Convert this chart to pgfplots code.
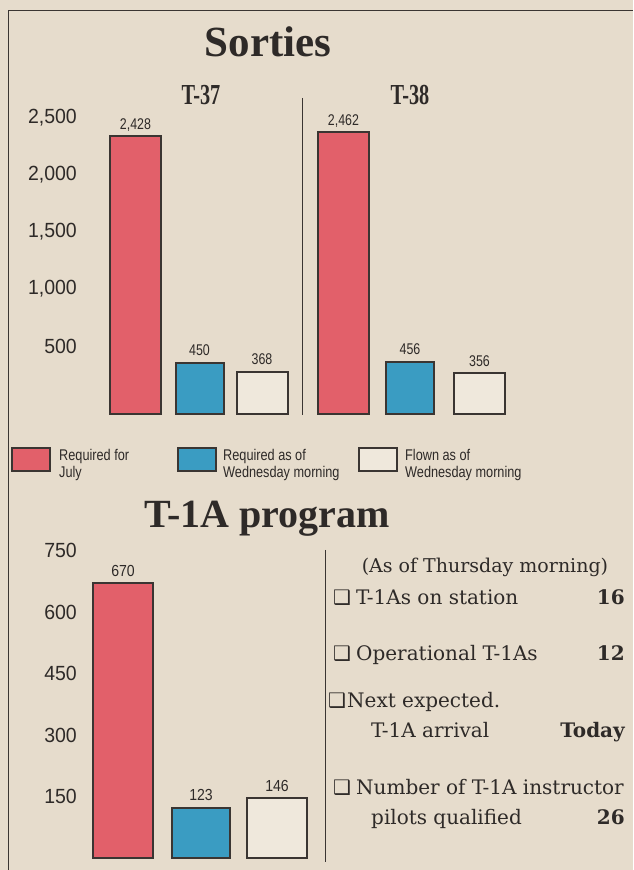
\documentclass[border=0pt]{standalone}
\usepackage{fontspec}
\usepackage{pgfplots}
\pgfplotsset{compat=1.18}
\setmainfont{Liberation Sans}
\newfontfamily\titleserif{Liberation Serif}
\newfontfamily\condserif[FakeStretch=0.7]{Liberation Serif}
\newfontfamily\sanscond[FakeStretch=0.82]{Liberation Sans}
\newfontfamily\sansval[FakeStretch=0.8]{Liberation Sans}
\newfontfamily\sansvalb[FakeStretch=0.88]{Liberation Sans}
\newfontfamily\ticksans[FakeStretch=0.95]{Liberation Sans}
\newfontfamily\bodyserif{DejaVu Serif}
\newfontfamily\symfont{DejaVu Sans}
\definecolor{paper}{HTML}{E6DCCC}
\definecolor{barred}{HTML}{E2606A}
\definecolor{barblue}{HTML}{3A9CC2}
\definecolor{barwhite}{HTML}{EFE8DC}
\definecolor{ink}{HTML}{3A3532}
\definecolor{txt}{HTML}{2E2A28}
\pgfplotsset{
  chartstyle/.style={
    scale only axis,
    axis line style={draw=none},
    tick style={draw=none},
    xtick=\empty,
    scaled y ticks=false,
    /pgf/number format/1000 sep={,},
    /pgf/number format/assume math mode=true,
    yticklabel style={font=\fontsize{20.5}{22}\ticksans, text=txt, anchor=east, inner sep=0pt, xshift=-3pt},
    clip=false,
  },
  barstyle/.style={ybar, bar shift=0pt, draw=ink, line width=2pt,
    nodes near coords,
    nodes near coords style={text=txt, anchor=base, inner sep=0pt, yshift=7pt}},
}
\begin{document}
\begin{tikzpicture}[x=1pt,y=1pt]
\useasboundingbox (0,0) rectangle (633,870);
\fill[paper] (0,0) rectangle (633,870);
% frame
\draw[ink, line width=0.9pt] (8,860) -- (633,860);
\draw[ink, line width=0.9pt] (8,0) -- (8,860);
% titles
\node[anchor=base, text=txt, font=\fontsize{43}{45}\titleserif\bfseries] at (268,813) {Sorties};
\node[anchor=base, text=txt, font=\fontsize{29}{30}\condserif\bfseries] at (201,765) {T-37};
\node[anchor=base, text=txt, font=\fontsize{29}{30}\condserif\bfseries] at (410,765) {T-38};
% Sorties chart
\begin{axis}[chartstyle, at={(80pt,456pt)}, anchor=south west,
  width=440pt, height=297.44pt, xmin=80, xmax=520, ymin=0, ymax=2600,
  ytick={500,1000,1500,2000,2500},
  yticklabel style={yshift=10.5pt},
  nodes near coords style={font=\fontsize{15.5}{16}\sansval}]
\addplot[barstyle, fill=barred, bar width=51] coordinates {(135.5,2428) (343.5,2462)};
\addplot[barstyle, fill=barblue, bar width=48] coordinates {(199.5,450) (410,456)};
\addplot[barstyle, fill=barwhite, bar width=51] coordinates {(262,368) (479.5,356)};
\end{axis}
\draw[ink, line width=0.6pt] (302,772) -- (302,455);
% legend
\filldraw[fill=barred, draw=ink, line width=2pt] (12,422) rectangle (50,399);
\filldraw[fill=barblue, draw=ink, line width=2pt] (178,422) rectangle (216,399);
\filldraw[fill=barwhite, draw=ink, line width=2pt] (359,422) rectangle (397,399);
\begin{scope}[every node/.style={anchor=base west, text=txt, inner sep=0pt, font=\fontsize{15.5}{16}\sanscond}]
\node at (59,409) {Required for};
\node at (59,392) {July};
\node at (223,409) {Required as of};
\node at (223,392) {Wednesday morning};
\node at (405,409) {Flown as of};
\node at (405,392) {Wednesday morning};
\end{scope}
\node[anchor=base, text=txt, font=\fontsize{40}{42}\titleserif\bfseries] at (267,342) {T-1A program};
% T-1A chart
\begin{axis}[chartstyle, at={(80pt,12pt)}, anchor=south west,
  width=240pt, height=319.8pt, xmin=80, xmax=320, ymin=0, ymax=780,
  ytick={150,300,450,600,750},
  nodes near coords style={font=\fontsize{16}{17}\sansvalb}]
\addplot[barstyle, fill=barred, bar width=60] coordinates {(123,670)};
\addplot[barstyle, fill=barblue, bar width=58] coordinates {(201,123)};
\addplot[barstyle, fill=barwhite, bar width=60] coordinates {(277,146)};
\end{axis}
\draw[ink, line width=0.6pt] (325,320) -- (325,8);
% right text block
\begin{scope}[every node/.style={text=txt, inner sep=0pt}]
\node[anchor=base, font=\fontsize{19}{20}\bodyserif] at (485,297) {(As of Thursday morning)};
\node[anchor=base west, font=\fontsize{20}{21}\symfont] at (333,265) {❑};
\node[anchor=base west, font=\fontsize{20}{21}\bodyserif] at (356,265) {T-1As on station};
\node[anchor=base east, font=\fontsize{20}{21}\bodyserif\bfseries] at (625,265) {16};
\node[anchor=base west, font=\fontsize{20}{21}\symfont] at (333,209) {❑};
\node[anchor=base west, font=\fontsize{20}{21}\bodyserif] at (356,209) {Operational T-1As};
\node[anchor=base east, font=\fontsize{20}{21}\bodyserif\bfseries] at (625,209) {12};
\node[anchor=base west, font=\fontsize{20}{21}\symfont] at (328,162) {❑};
\node[anchor=base west, font=\fontsize{20}{21}\bodyserif] at (347,162) {Next expected.};
\node[anchor=base west, font=\fontsize{20}{21}\bodyserif] at (371,132) {T-1A arrival};
\node[anchor=base east, font=\fontsize{20}{21}\bodyserif\bfseries] at (625,132) {Today};
\node[anchor=base west, font=\fontsize{20}{21}\symfont] at (333,75) {❑};
\node[anchor=base west, font=\fontsize{20}{21}\bodyserif] at (356,75) {Number of T-1A instructor};
\node[anchor=base west, font=\fontsize{20}{21}\bodyserif] at (371,45) {pilots qualified};
\node[anchor=base east, font=\fontsize{20}{21}\bodyserif\bfseries] at (625,45) {26};
\end{scope}
\end{tikzpicture}
\end{document}
